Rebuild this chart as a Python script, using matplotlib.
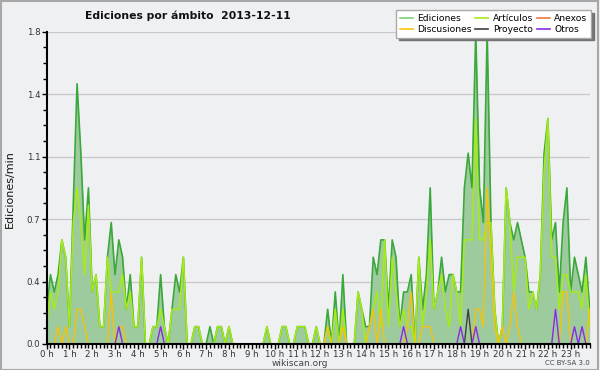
import numpy as np
import matplotlib
matplotlib.use('Agg')
import matplotlib.pyplot as plt
from matplotlib.patches import Rectangle
from matplotlib.ticker import FixedLocator, MultipleLocator

# valores por intervalo de 10 minutos (ediciones/min), 144 intervalos
ediciones = [
    0.2, 0.4, 0.3, 0.4, 0.6, 0.5, 0.1, 0.8, 1.5, 1.1, 0.6, 0.9,
    0.3, 0.4, 0.1, 0.1, 0.5, 0.7, 0.4, 0.6, 0.5, 0.2, 0.4, 0.1,
    0.1, 0.5, 0.0, 0.0, 0.1, 0.1, 0.4, 0.1, 0.0, 0.2, 0.4, 0.3,
    0.5, 0.0, 0.0, 0.1, 0.1, 0.0, 0.0, 0.1, 0.0, 0.1, 0.1, 0.0,
    0.1, 0.0, 0.0, 0.0, 0.0, 0.0, 0.0, 0.0, 0.0, 0.0, 0.1, 0.0,
    0.0, 0.0, 0.1, 0.1, 0.0, 0.0, 0.1, 0.1, 0.1, 0.0, 0.0, 0.1,
    0.0, 0.0, 0.2, 0.0, 0.3, 0.0, 0.4, 0.0, 0.0, 0.0, 0.3, 0.2,
    0.1, 0.1, 0.5, 0.4, 0.6, 0.6, 0.2, 0.6, 0.5, 0.1, 0.3, 0.3,
    0.4, 0.0, 0.5, 0.2, 0.4, 0.9, 0.2, 0.3, 0.5, 0.3, 0.4, 0.4,
    0.3, 0.3, 0.9, 1.1, 0.9, 1.8, 0.9, 0.7, 1.8, 0.7, 0.2, 0.0,
    0.1, 0.9, 0.7, 0.6, 0.7, 0.6, 0.5, 0.3, 0.3, 0.2, 0.4, 1.1,
    1.3, 0.6, 0.7, 0.3, 0.7, 0.9, 0.3, 0.5, 0.4, 0.3, 0.5, 0.2,
]
articulos = [
    0.1, 0.3, 0.2, 0.3, 0.6, 0.5, 0.1, 0.7, 0.9, 0.7, 0.4, 0.8,
    0.3, 0.4, 0.1, 0.1, 0.5, 0.3, 0.3, 0.3, 0.4, 0.2, 0.3, 0.1,
    0.1, 0.5, 0.0, 0.0, 0.1, 0.1, 0.2, 0.1, 0.0, 0.2, 0.2, 0.2,
    0.5, 0.0, 0.0, 0.1, 0.1, 0.0, 0.0, 0.0, 0.0, 0.1, 0.1, 0.0,
    0.1, 0.0, 0.0, 0.0, 0.0, 0.0, 0.0, 0.0, 0.0, 0.0, 0.1, 0.0,
    0.0, 0.0, 0.1, 0.1, 0.0, 0.0, 0.1, 0.1, 0.1, 0.0, 0.0, 0.1,
    0.0, 0.0, 0.1, 0.0, 0.2, 0.0, 0.2, 0.0, 0.0, 0.0, 0.3, 0.2,
    0.0, 0.1, 0.2, 0.3, 0.1, 0.6, 0.1, 0.5, 0.3, 0.1, 0.2, 0.1,
    0.1, 0.0, 0.5, 0.1, 0.3, 0.6, 0.2, 0.3, 0.4, 0.2, 0.1, 0.4,
    0.3, 0.1, 0.6, 0.6, 0.6, 1.3, 0.6, 0.6, 0.7, 0.7, 0.2, 0.0,
    0.1, 0.9, 0.7, 0.3, 0.5, 0.5, 0.5, 0.2, 0.3, 0.2, 0.4, 1.0,
    1.3, 0.5, 0.5, 0.2, 0.4, 0.4, 0.3, 0.3, 0.3, 0.2, 0.4, 0.1,
]
discusiones = [
    0.0, 0.0, 0.0, 0.1, 0.0, 0.1, 0.0, 0.0, 0.2, 0.2, 0.1, 0.0,
    0.0, 0.0, 0.0, 0.0, 0.0, 0.3, 0.0, 0.1, 0.1, 0.0, 0.0, 0.0,
    0.0, 0.0, 0.0, 0.0, 0.0, 0.0, 0.0, 0.0, 0.0, 0.0, 0.0, 0.0,
    0.0, 0.0, 0.0, 0.0, 0.0, 0.0, 0.0, 0.0, 0.0, 0.0, 0.0, 0.0,
    0.0, 0.0, 0.0, 0.0, 0.0, 0.0, 0.0, 0.0, 0.0, 0.0, 0.0, 0.0,
    0.0, 0.0, 0.0, 0.0, 0.0, 0.0, 0.0, 0.0, 0.0, 0.0, 0.0, 0.0,
    0.0, 0.0, 0.1, 0.0, 0.0, 0.0, 0.1, 0.0, 0.0, 0.0, 0.0, 0.0,
    0.0, 0.1, 0.2, 0.0, 0.2, 0.0, 0.0, 0.0, 0.0, 0.0, 0.0, 0.1,
    0.3, 0.0, 0.0, 0.1, 0.1, 0.1, 0.0, 0.0, 0.0, 0.0, 0.0, 0.0,
    0.0, 0.0, 0.0, 0.0, 0.0, 0.2, 0.2, 0.1, 0.9, 0.5, 0.1, 0.0,
    0.1, 0.0, 0.1, 0.3, 0.1, 0.0, 0.0, 0.0, 0.0, 0.0, 0.0, 0.0,
    0.0, 0.0, 0.0, 0.0, 0.3, 0.3, 0.0, 0.0, 0.0, 0.0, 0.0, 0.2,
]
# series casi vacias: {intervalo: valor}
proyecto = {111: 0.2}
anexos = {}
otros = {19: 0.1, 30: 0.1, 94: 0.1, 109: 0.1, 113: 0.1, 134: 0.2, 139: 0.1, 141: 0.1}

horas = list(range(24))
etiquetas_y = ['0.0', '0.4', '0.7', '1.1', '1.4', '1.8']
valores_y = [0.0, 0.36, 0.72, 1.08, 1.44, 1.8]

n = len(ediciones)
x = np.arange(n) / 6.0


def sparse(d):
    s = np.zeros(n)
    for k, v in d.items():
        s[k] = v
    return s


bg = '#eff0f2'
fig = plt.figure(figsize=(6, 3.7), dpi=100, facecolor=bg)
ax = fig.add_axes([0.0778, 0.0703, 0.905, 0.8440])
ax.set_facecolor(bg)

c_ed = '#3aa83a'
ax.fill_between(x, 0, ediciones, color='#9ecb9e', lw=0, zorder=1)
ax.plot(x, ediciones, color=c_ed, lw=1.2, zorder=3, label='Ediciones')
ax.plot(x, articulos, color='#a6ec14', lw=1.1, zorder=4, label='Artículos')
ax.plot(x, sparse(anexos), color='#f07848', lw=1, zorder=4, label='Anexos')
ax.plot(x, discusiones, color='#f5c30a', lw=1, zorder=5, label='Discusiones')
ax.plot(x, sparse(proyecto), color='#404040', lw=1, zorder=5, label='Proyecto')
ax.plot(x, sparse(otros), color='#8a2be2', lw=1, zorder=6, label='Otros')

ax.set_xlim(0, x[-1])
ax.set_ylim(0, 1.8)

ax.yaxis.set_major_locator(FixedLocator(valores_y))
ax.set_yticklabels(etiquetas_y)
ax.yaxis.set_minor_locator(MultipleLocator(0.09))
ax.xaxis.set_major_locator(FixedLocator(horas))
ax.set_xticklabels([f'{h} h' for h in horas])
ax.xaxis.set_minor_locator(MultipleLocator(1 / 6))

ax.tick_params(axis='both', which='both', direction='out', color='black', width=1)
ax.tick_params(axis='both', which='major', length=3.5, labelsize=6.2, colors='#333333', pad=1)
ax.tick_params(axis='both', which='minor', length=3)
ax.tick_params(axis='both', which='both', color='black')
ax.grid(axis='y', color='#c8c8c8', lw=0.9, zorder=0)
ax.set_axisbelow(True)

for s in ['top', 'right']:
    ax.spines[s].set_visible(False)
for s in ['left', 'bottom']:
    ax.spines[s].set_color('black')
    ax.spines[s].set_linewidth(1.5)
    ax.spines[s].set_zorder(10)

handles, labels = ax.get_legend_handles_labels()
orden = ['Ediciones', 'Discusiones', 'Artículos', 'Proyecto', 'Anexos', 'Otros']
hmap = dict(zip(labels, handles))
leg = fig.legend([hmap[k] for k in orden], orden, ncol=3, loc='upper right',
                 bbox_to_anchor=(0.985, 0.972), fontsize=6.6, frameon=True,
                 fancybox=False, shadow={'color': '#737373', 'alpha': 1},
                 handlelength=1.4, handletextpad=0.5, columnspacing=0.4,
                 labelspacing=0.2, borderpad=0.4, borderaxespad=0)
leg.get_frame().set_facecolor('white')
leg.get_frame().set_edgecolor('#aaaaaa')
leg.get_frame().set_linewidth(1)
for h in leg.legend_handles:
    h.set_linewidth(1.2)
leg.legend_handles[0].set_color('#7ccf7c')

fig.text(0.3125, 0.957, 'Ediciones por ámbito  2013-12-11', ha='center', va='center',
         fontsize=7.8, fontweight='bold', color='#111111')
fig.text(0.016, 0.49, 'Ediciones/min', rotation=90, ha='center', va='center',
         fontsize=8, color='#111111')
fig.text(0.5, 0.018, 'wikiscan.org', ha='center', va='center', fontsize=6.5, color='#444444')
fig.text(0.983, 0.018, 'CC BY-SA 3.0', ha='right', va='center', fontsize=5, color='#444444')

fig.patches.append(Rectangle((0.001, 0.001), 0.996, 0.997, transform=fig.transFigure,
                             fill=False, edgecolor='#a8a8a8', lw=1.5))

fig.savefig('out.png', dpi=100, facecolor=bg)
